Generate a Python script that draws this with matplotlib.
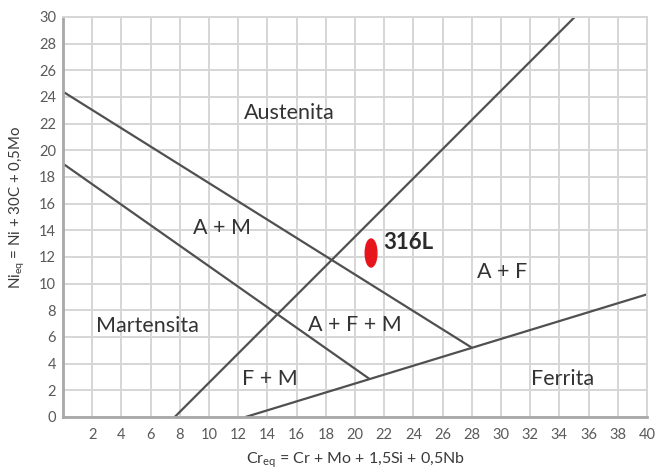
import matplotlib
matplotlib.use("Agg")
import matplotlib.pyplot as plt
from matplotlib.patches import Ellipse

plt.rcParams['font.family'] = ['Lato', 'DejaVu Sans']
plt.rcParams['mathtext.fontset'] = 'custom'
plt.rcParams['mathtext.rm'] = 'Lato'
plt.rcParams['mathtext.it'] = 'Lato:italic'

# phase boundaries (Cr_eq, Ni_eq) end points
austenite_upper = ([0, 28], [24.4, 5.2])
austenite_lower = ([0, 21], [19.0, 2.85])
martensite_ferrite = ([7.65, 35.05], [0, 30])
ferrite_line = ([12.5, 40], [0, 9.2])
boundaries = [austenite_upper, austenite_lower, martensite_ferrite, ferrite_line]

# region names and where they sit
regions = ["Austenita", "A + M", "A + F", "Martensita", "A + F + M", "F + M", "Ferrita"]
region_x = [15.5, 10.9, 30.1, 5.75, 20.0, 14.2, 34.2]
region_y = [22.8, 14.2, 10.9, 6.8, 6.9, 2.85, 2.85]

# steel composition point
steel_name = "316L"
steel_cr = 21.1
steel_ni = 12.3

xticks = list(range(2, 41, 2))
yticks = list(range(0, 31, 2))

fig = plt.figure(figsize=(6.57, 4.72), dpi=100)
ax = fig.add_axes([63 / 657, 1 - 417 / 472, 584 / 657, 400 / 472])
ax.set_xlim(0, 40)
ax.set_ylim(0, 30)

ax.set_xticks(list(range(0, 41, 2)))
ax.set_xticklabels([""] + [str(t) for t in xticks])
ax.set_yticks(yticks)
ax.set_yticklabels([str(t) for t in yticks])
ax.tick_params(length=0, labelsize=10.5, colors='#5a5a5a')
ax.tick_params(axis='x', pad=8)
ax.tick_params(axis='y', pad=5)
ax.grid(True, color='#d6d6d6', linewidth=1.4)
ax.set_axisbelow(True)

for side in ['top', 'right']:
    ax.spines[side].set_color('#d6d6d6')
    ax.spines[side].set_linewidth(1.4)
for side in ['left', 'bottom']:
    ax.spines[side].set_color('#a8a8a8')
    ax.spines[side].set_linewidth(2)

for xs, ys in boundaries:
    ax.plot(xs, ys, color='#505050', linewidth=1.6, solid_capstyle='butt')

for name, x, y in zip(regions, region_x, region_y):
    ax.text(x, y, name, ha='center', va='center', fontsize=15.5, color='#333333')

ax.add_patch(Ellipse((steel_cr, steel_ni), 0.8, 2.1, color='#e8141b', zorder=5))
ax.text(steel_cr + 0.8, steel_ni + 0.8, steel_name, ha='left', va='center',
        fontsize=16, fontweight='bold', color='#2a2a2a')

ax.set_xlabel(r"Cr$_{\mathrm{eq}}$ = Cr + Mo + 1,5Si + 0,5Nb", fontsize=11.5,
              color='#3a3a3a', labelpad=6)
ax.set_ylabel(r"Ni$_{\mathrm{eq}}$ = Ni + 30C + 0,5Mo", fontsize=10.8,
              color='#3a3a3a')
ax.yaxis.set_label_coords(-0.062, 0.525)

fig.savefig("out.png", dpi=100, facecolor='white')
